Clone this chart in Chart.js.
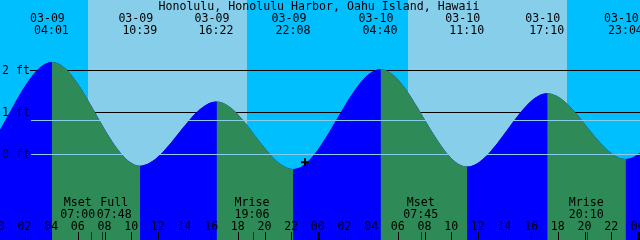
<!DOCTYPE html>
<html>
<head>
<meta charset="utf-8">
<script src="https://cdn.jsdelivr.net/npm/chart.js@4.4.1/dist/chart.umd.min.js"></script>
<style>
  html, body { margin: 0; padding: 0; background: #00bfff; }
  canvas { display: block; }
</style>
</head>
<body>
<canvas id="tide" width="640" height="240"></canvas>
<script>
const title = 'Honolulu, Honolulu Harbor, Oahu Island, Hawaii';

// high / low tides, the first two and last two fall outside the window
const tideDates = ['03-08', '03-08', '03-09', '03-09', '03-09', '03-09', '03-10', '03-10', '03-10', '03-10', '03-11', '03-11'];
const tideTimes = ['15:40', '21:32', '04:01', '10:39', '16:22', '22:08', '04:40', '11:10', '17:10', '23:04', '05:18', '11:42'];
const tideFeet = [1.3, -0.3, 2.19, -0.27, 1.25, -0.35, 2.02, -0.29, 1.45, -0.11, 1.9, -0.2];

const sunDates = ['03-09', '03-10'];
const sunRise = ['06:43', '06:43'];
const sunSet = ['18:39', '18:39'];

const moonLabels = ['Mset', 'Full', 'Mrise', 'Mset', 'Mrise'];
const moonDates = ['03-09', '03-09', '03-09', '03-10', '03-10'];
const moonTimes = ['07:00', '07:48', '19:06', '07:45', '20:10'];

const depthFeet = [0, 1, 2];
const depthLabels = ['0 ft', '1 ft', '2 ft'];
const mslFeet = 0.81;

const nowDate = '03-09';
const nowTime = '23:00';
const nowFeet = -0.19;

const hourTicks = [0, 2, 4, 6, 8, 10, 12, 14, 16, 18, 20, 22, 24, 26, 28, 30, 32, 34, 36, 38, 40, 42, 44, 46, 48];

// hours counted from 03-09 00:00
const toHours = (d, t) => (parseInt(d.slice(3), 10) - 9) * 24 + parseInt(t.slice(0, 2), 10) + parseInt(t.slice(3), 10) / 60;

const tideHours = tideDates.map((d, i) => toHours(d, tideTimes[i]));
const tidePoints = tideHours.map((h, i) => ({ x: h, y: tideFeet[i] }));
const xStart = 0.125, xEnd = 48.125;

const FONT = '11.6px "DejaVu Sans Mono", "Liberation Mono", monospace';
const NIGHT = '#00bfff', DAY = '#87ceeb';
const RISE = '#0000ff', FALL = '#2e8b57';

const tidePlugin = {
  id: 'tideDecor',
  beforeDatasetsDraw(chart) {
    const ctx = chart.ctx;
    const xs = chart.scales.x, ys = chart.scales.y;
    const a = chart.chartArea;
    ctx.save();
    ctx.fillStyle = NIGHT;
    ctx.fillRect(a.left, a.top, a.right - a.left, a.bottom - a.top);
    ctx.fillStyle = DAY;
    sunDates.forEach((d, i) => {
      const x0 = xs.getPixelForValue(toHours(d, sunRise[i]));
      const x1 = xs.getPixelForValue(toHours(d, sunSet[i]));
      ctx.fillRect(Math.round(x0), a.top, Math.round(x1) - Math.round(x0), a.bottom - a.top);
    });
    // depth lines behind the water
    ctx.fillStyle = '#000';
    depthFeet.forEach(f => {
      ctx.fillRect(30, Math.floor(ys.getPixelForValue(f)), a.right - 30, 1);
    });
    ctx.restore();
  },
  afterDatasetsDraw(chart) {
    const ctx = chart.ctx;
    const xs = chart.scales.x, ys = chart.scales.y;
    const a = chart.chartArea;
    ctx.save();

    // datum and mean sea level lines
    ctx.fillStyle = DAY;
    ctx.fillRect(31, Math.floor(ys.getPixelForValue(0)), a.right - 31, 1);
    ctx.fillRect(31, Math.floor(ys.getPixelForValue(mslFeet)), a.right - 31, 1);

    ctx.fillStyle = '#000';
    ctx.font = FONT;
    ctx.textBaseline = 'alphabetic';

    // depth labels
    ctx.textAlign = 'left';
    depthFeet.forEach((f, i) => {
      ctx.fillText(depthLabels[i], 2, ys.getPixelForValue(f) + 4);
    });

    ctx.textAlign = 'center';
    ctx.fillText(title, 319, 10);

    // high / low times along the top
    tideHours.forEach((h, i) => {
      if (h < xStart || h > xEnd) return;
      const x = xs.getPixelForValue(h);
      ctx.fillText(tideDates[i], x - 4.5, 22);
      ctx.fillText(tideTimes[i], x - 0.5, 34);
    });

    // moon events, pushed apart when they collide
    const moonX = moonDates.map((d, i) => xs.getPixelForValue(toHours(d, moonTimes[i])));
    const centers = moonX.map(x => x - 1);
    for (let i = 1; i < centers.length; i++) {
      if (centers[i] - centers[i - 1] < 36.5) {
        const mid = (centers[i] + centers[i - 1]) / 2;
        centers[i - 1] = mid - 18.25;
        centers[i] = mid + 18.25;
      }
    }
    centers.forEach((c, i) => {
      ctx.fillText(moonLabels[i], c, 206);
      ctx.fillText(moonTimes[i], c, 217.5);
    });

    // hour ticks
    hourTicks.forEach(h => {
      const x = xs.getPixelForValue(h);
      ctx.fillText(String(h % 24).padStart(2, '0'), x - 0.5, 229.5);
      if (h % 24 === 0) {
        ctx.fillRect(Math.round(x) - 1, 232, 3, 8);
      } else {
        ctx.fillRect(Math.floor(x), 232, 1, 8);
      }
    });
    ctx.fillStyle = 'rgba(0,0,0,0.6)';
    moonX.forEach(x => ctx.fillRect(Math.floor(x), 232, 1, 8));

    ctx.restore();
  }
};

new Chart(document.getElementById('tide'), {
  type: 'line',
  data: {
    datasets: [
      {
        type: 'scatter',
        data: [{ x: toHours(nowDate, nowTime), y: nowFeet }],
        pointStyle: 'cross',
        pointRadius: 4,
        pointBorderWidth: 2,
        pointBorderColor: '#000',
        showLine: false,
        order: 0
      },
      {
        // rising water blue, falling water green
        data: tidePoints,
        borderWidth: 0,
        pointRadius: 0,
        fill: 'start',
        backgroundColor: RISE,
        cubicInterpolationMode: 'monotone',
        capBezierPoints: false,
        segment: {
          backgroundColor: c => (c.p1.parsed.y >= c.p0.parsed.y ? RISE : FALL)
        },
        order: 1
      },
      {
        // same curve underneath so the segment joins leave no seam
        data: tidePoints,
        borderWidth: 0,
        pointRadius: 0,
        fill: 'start',
        backgroundColor: RISE,
        cubicInterpolationMode: 'monotone',
        capBezierPoints: false,
        order: 2
      }
    ]
  },
  options: {
    responsive: false,
    animation: false,
    devicePixelRatio: 1,
    layout: { padding: 0, autoPadding: false },
    plugins: {
      legend: { display: false },
      tooltip: { enabled: false },
      title: { display: false }
    },
    scales: {
      x: { type: 'linear', min: xStart, max: xEnd, display: false },
      y: { type: 'linear', min: -2.033, max: 3.661, display: false }
    }
  },
  plugins: [tidePlugin]
});
</script>
</body>
</html>
